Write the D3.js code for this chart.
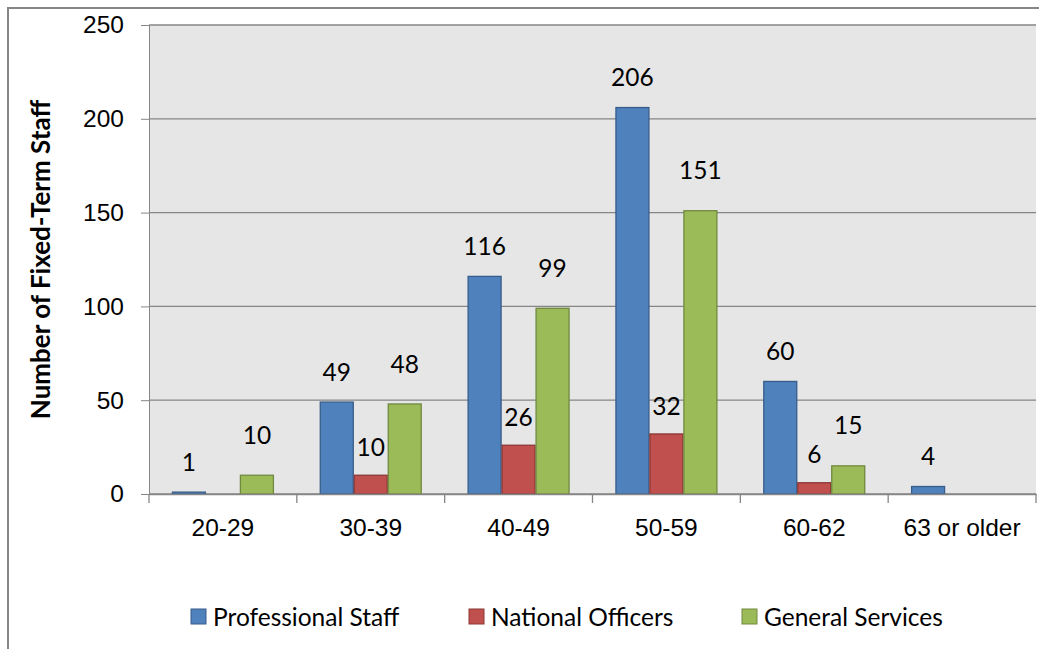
<!DOCTYPE html>
<html>
<head>
<meta charset="utf-8">
<script src="https://cdn.jsdelivr.net/npm/d3@7"></script>
<style>
  body { margin: 0; background: #fff; }
  svg { display: block; font-family: Lato, "Open Sans", sans-serif; }
</style>
</head>
<body>
<svg id="chart" width="1039" height="649"></svg>
<script>
const ageGroups = ['20-29', '30-39', '40-49', '50-59', '60-62', '63 or older'];
const seriesNames = ['Professional Staff', 'National Officers', 'General Services'];
const professional = [1, 49, 116, 206, 60, 4];
const national = [0, 10, 26, 32, 6, 0];
const general = [10, 48, 99, 151, 15, 0];
const yTicks = [0, 50, 100, 150, 200, 250];

const fills = ['#4f81bd', '#c0504d', '#9bbb59'];
const strokes = ['#385d8a', '#8c3836', '#71893f'];
// label lift above bar top, per series (excel placed them loosely)
const labelLift = [30, 28, 40];
const fontSize = 24.5;

const svg = d3.select('#chart');
const plot = { left: 149, right: 1036, top: 25, bottom: 494 };

// outer chart border (cropped at right/bottom)
svg.append('rect')
  .attr('x', 8).attr('y', 8)
  .attr('width', 1100).attr('height', 700)
  .attr('fill', 'none')
  .attr('stroke', '#868686')
  .attr('stroke-width', 2);

svg.append('rect')
  .attr('x', plot.left).attr('y', plot.top)
  .attr('width', plot.right - plot.left).attr('height', plot.bottom - plot.top)
  .attr('fill', '#e6e6e6');

const x0 = d3.scaleBand().domain(ageGroups).range([plot.left, plot.right]);
const x1 = d3.scaleBand().domain(seriesNames).range([0, x0.bandwidth()])
  .paddingInner(0).paddingOuter(0.675);
const y = d3.scaleLinear().domain([0, 250]).range([plot.bottom, plot.top]);

// gridlines + y ticks
const yAxis = svg.append('g')
  .attr('transform', `translate(${plot.left},0)`)
  .call(d3.axisLeft(y).tickValues(yTicks).tickSize(8).tickPadding(17));
yAxis.select('.domain').attr('stroke', '#868686');
yAxis.selectAll('.tick line').attr('stroke', '#868686');
yAxis.selectAll('.tick text').attr('font-size', fontSize).attr('fill', '#000');

svg.append('g').selectAll('line')
  .data(yTicks)
  .join('line')
  .attr('x1', plot.left).attr('x2', plot.right)
  .attr('y1', d => y(d)).attr('y2', d => y(d))
  .attr('stroke', '#868686')
  .attr('stroke-width', 1.3);

const rows = ageGroups.map((g, i) => ({
  group: g,
  values: [professional[i], national[i], general[i]]
}));

const groups = svg.append('g').selectAll('g')
  .data(rows)
  .join('g')
  .attr('transform', d => `translate(${x0(d.group)},0)`);

const cells = groups.selectAll('g')
  .data(d => d.values.map((v, k) => ({ v, k })).filter(c => c.v > 0))
  .join('g');

cells.append('rect')
  .attr('x', d => x1(seriesNames[d.k]) + 0.5)
  .attr('y', d => y(d.v))
  .attr('width', x1.bandwidth() - 1)
  .attr('height', d => y(0) - y(d.v))
  .attr('fill', d => fills[d.k])
  .attr('stroke', d => strokes[d.k])
  .attr('stroke-width', 1.3);

cells.append('text')
  .attr('x', d => x1(seriesNames[d.k]) + x1.bandwidth() / 2)
  .attr('y', d => y(d.v) - labelLift[d.k])
  .attr('dy', '0.35em')
  .attr('text-anchor', 'middle')
  .attr('font-size', fontSize)
  .attr('fill', '#000')
  .text(d => d.v);

// x axis
const xAxis = svg.append('g')
  .attr('transform', `translate(0,${plot.bottom})`)
  .call(d3.axisBottom(x0).tickSize(0).tickPadding(25));
xAxis.select('.domain').attr('stroke', '#868686').attr('stroke-width', 1.3);
xAxis.selectAll('.tick text').attr('font-size', fontSize).attr('fill', '#000');

svg.append('g').selectAll('line')
  .data(ageGroups.map(g => x0(g)).concat([plot.right]))
  .join('line')
  .attr('x1', d => d).attr('x2', d => d)
  .attr('y1', plot.bottom).attr('y2', plot.bottom + 9)
  .attr('stroke', '#868686')
  .attr('stroke-width', 1.3);

// y title
svg.append('text')
  .attr('transform', `translate(50,${(plot.top + plot.bottom) / 2}) rotate(-90)`)
  .attr('text-anchor', 'middle')
  .attr('font-size', 26)
  .attr('font-weight', 'bold')
  .text('Number of Fixed-Term Staff');

// legend
const legendX = [191, 469, 742];
const legend = svg.append('g').selectAll('g')
  .data(seriesNames)
  .join('g')
  .attr('transform', (d, i) => `translate(${legendX[i]},617)`);
legend.append('rect')
  .attr('x', 0).attr('y', -8)
  .attr('width', 15).attr('height', 15)
  .attr('fill', (d, i) => fills[i])
  .attr('stroke', (d, i) => strokes[i]);
legend.append('text')
  .attr('x', 22)
  .attr('dy', '0.35em')
  .attr('font-size', fontSize)
  .text(d => d);
</script>
</body>
</html>
